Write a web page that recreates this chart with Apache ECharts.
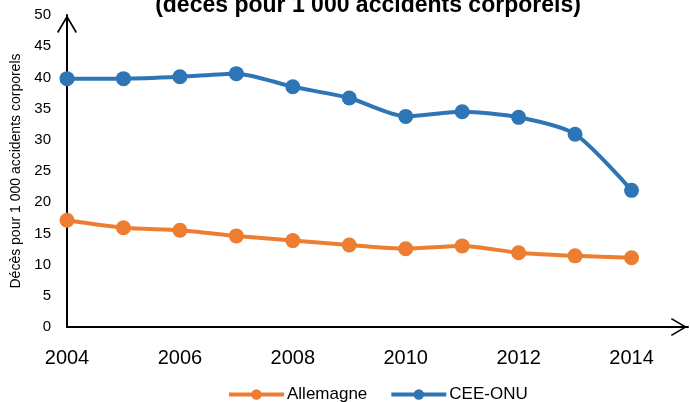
<!DOCTYPE html>
<html><head><meta charset="utf-8">
<script src="https://cdn.jsdelivr.net/npm/echarts@6/dist/echarts.min.js"></script>
<style>html,body{margin:0;padding:0;background:#fff}#c{width:690px;height:402px}</style>
</head><body><div id="c"></div>
<script>
const years = [2004,2005,2006,2007,2008,2009,2010,2011,2012,2013,2014];
const allemagne = [17.1,15.9,15.5,14.6,13.85,13.15,12.55,13.0,11.9,11.4,11.1];
const ceeOnu = [39.8,39.8,40.1,40.6,38.5,36.7,33.75,34.5,33.6,30.9,21.9];
const seriesNames = ['Allemagne','CEE-ONU'];
const titleText = '(décès pour 1 000 accidents corporels)';
const yAxisTitle = 'Décès pour 1 000 accidents corporels';

const font = 'Liberation Sans';
const chevron = 'path://M10,0 L20,17 L18.6,18 L10,3.4 L1.4,18 L0,17 Z';
const chart = echarts.init(document.getElementById('c'));
chart.setOption({
  animation:false,
  backgroundColor:'#fff',
  textStyle:{fontFamily:font},
  graphic:[{type:'text', x:368, y:-6,
    style:{text:titleText, font:'bold 23px '+font, fill:'#000', align:'center', verticalAlign:'top'}}],
  legend:{left:222, bottom:-6, itemWidth:55, itemHeight:13, itemGap:22,
    lineStyle:{width:4},
    textStyle:{fontSize:17, color:'#000', fontFamily:font, padding:[0,0,0,-2]}, data:seriesNames},
  grid:{left:67, right:2, top:15, bottom:75, containLabel:false, outerBoundsMode:'none'},
  xAxis:{type:'value', min:2004, max:2015, interval:2,
    axisLine:{lineStyle:{color:'#000', width:2}, symbol:['none', chevron], symbolSize:[18,18], symbolOffset:[0,-9]},
    axisTick:{show:false}, splitLine:{show:false},
    axisLabel:{fontSize:20, color:'#000', margin:21, formatter:v=> v>2014? '' : String(v)}},
  yAxis:{type:'value', min:0, max:50, interval:5,
    name:yAxisTitle, nameLocation:'middle', nameGap:42, nameRotate:90,
    nameTextStyle:{fontSize:14, color:'#000'},
    axisLine:{show:true, lineStyle:{color:'#000', width:2}, symbol:['none', chevron], symbolSize:[20,18], symbolOffset:[0,-9]},
    axisTick:{show:false}, splitLine:{show:false},
    axisLabel:{fontSize:15, color:'#000', margin:16}},
  series:[
    {name:seriesNames[0], type:'line', data:years.map((y,i)=>[y,allemagne[i]]), smooth:0.25,
      symbol:'circle', symbolSize:15, color:'#ED7D31', lineStyle:{width:4, color:'#ED7D31'}, itemStyle:{color:'#ED7D31'}},
    {name:seriesNames[1], type:'line', data:years.map((y,i)=>[y,ceeOnu[i]]), smooth:0.25,
      symbol:'circle', symbolSize:15, color:'#2E75B6', lineStyle:{width:4, color:'#2E75B6'}, itemStyle:{color:'#2E75B6'}}
  ]
});
</script></body></html>
